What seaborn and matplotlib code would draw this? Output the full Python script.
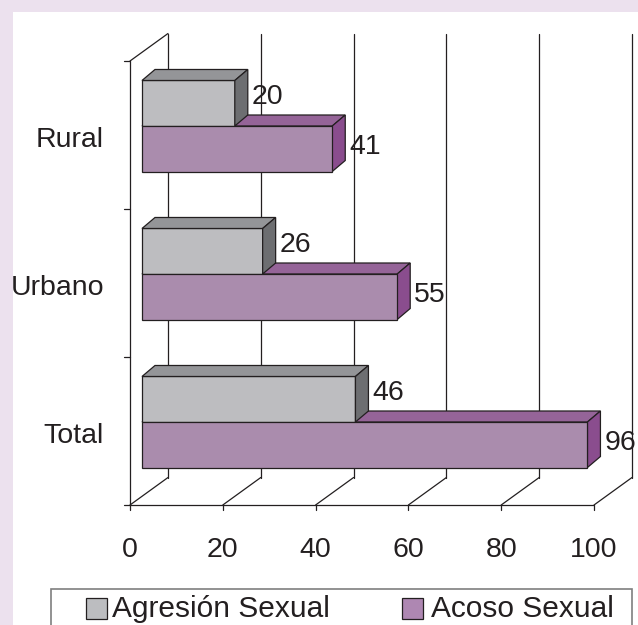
import matplotlib

matplotlib.use("Agg")
import matplotlib.pyplot as plt
import pandas as pd
import seaborn as sns
from matplotlib.patches import Polygon, Rectangle

# data
zonas = ["Rural", "Urbano", "Total"]
agresion = [20, 26, 46]
acoso = [41, 55, 96]
tipos = ["Agresión Sexual", "Acoso Sexual"]
x_ticks = [0, 20, 40, 60, 80, 100]

# colours: front / top / side faces
front = ["#bcbdc0", "#ae87b2"]
top = ["#949598", "#956498"]
side = ["#6d6e71", "#8a4d8e"]
ink = "#231f20"

W, H = 638, 625
SX, SY = 4.64, 148.0  # pixels per value unit / per category
X0, Y0 = 142, 126  # pixel position of value 0 / first category (bar plane)


def px(dx, dy):
    """pixel offset -> data offset"""
    return dx / SX, dy / SY


bar_d = px(13, -11)  # depth of each bar
front_d = px(-12, 9)  # front plane relative to the bars
back_d = px(26, -18.5)  # back wall relative to the bars

df = pd.DataFrame(
    {
        "zona": zonas * 2,
        "valor": agresion + acoso,
        "tipo": [tipos[0]] * 3 + [tipos[1]] * 3,
    }
)

sns.set_style("white")
plt.rcParams["font.family"] = ["Liberation Sans", "DejaVu Sans"]
FS = 20.5

fig = plt.figure(figsize=(W / 100, H / 100), dpi=100, facecolor="#ece1ee")
fig.patches.append(
    Rectangle((13 / W, 0), 1, 1 - 12 / H, transform=fig.transFigure,
              facecolor="white", edgecolor="none", zorder=-1)
)
ax = fig.add_axes([0, 0, 1, 1])
ax.patch.set_alpha(0)

sns.barplot(
    data=df, x="valor", y="zona", hue="tipo", order=zonas, hue_order=tipos,
    orient="h", palette=front, width=0.615, edgecolor=ink, linewidth=0.9,
    legend=False, ax=ax, zorder=3,
)

ax.set_xlim(-X0 / SX, (W - X0) / SX)
ax.set_ylim((H - Y0) / SY, -Y0 / SY)
ax.set_axis_off()

# walls and floor
y_top, y_floor = -0.5, len(zonas) - 0.5
fx, fy = front_d
bx, by = back_d
line = dict(color=ink, lw=0.9, zorder=1)
for v in x_ticks:
    ax.plot([v + bx, v + bx], [y_top + by, y_floor + by], **line)
    ax.plot([v + fx, v + bx], [y_floor + fy, y_floor + by], **line)
    ax.plot([v + fx, v + fx], [y_floor + fy, y_floor + fy + 5 / SY], **line)
    ax.text(v + fx, 2.865, str(v), ha="center", va="center", fontsize=FS, color=ink)
ax.plot([fx - 6 / SX, x_ticks[-1] + fx], [y_floor + fy] * 2, **line)
ax.plot([fx, fx], [y_top + fy, y_floor + fy], **line)
ax.plot([fx, bx], [y_top + fy, y_top + by], **line)
for i in range(len(zonas)):
    ax.plot([fx - 6 / SX, fx], [i - 0.5 + fy] * 2, **line)
    ax.text(-8.2, i + 0.095, zonas[i], ha="right", va="center", fontsize=FS, color=ink)

# 3d faces on the seaborn bars
ddx, ddy = bar_d
n = len(zonas)
for k, bar in enumerate(ax.patches):
    h = k // n
    x0, y0 = bar.get_x(), bar.get_y()
    w, hh = bar.get_width(), bar.get_height()
    x1, y1 = x0 + w, y0 + hh
    z = 2.5 if h == 1 else 3.5
    ax.add_patch(Polygon(
        [(x0, y0), (x1, y0), (x1 + ddx, y0 + ddy), (x0 + ddx, y0 + ddy)],
        facecolor=top[h], edgecolor=ink, lw=0.9, zorder=z))
    ax.add_patch(Polygon(
        [(x1, y0), (x1, y1), (x1 + ddx, y1 + ddy), (x1 + ddx, y0 + ddy)],
        facecolor=side[h], edgecolor=ink, lw=0.9, zorder=z))
    shift = -6 if h == 0 else -2
    ax.text(x1 + ddx + 4 / SX, (y0 + y1) / 2 + shift / SY, f"{w:g}",
            ha="left", va="center", fontsize=FS, color=ink, zorder=5)

# legend box (cut by the lower edge, as in the original)
fig.patches.append(
    Rectangle((51 / W, -0.05), (632 - 51) / W, 0.05 + (H - 589) / H,
              transform=fig.transFigure, facecolor="white", edgecolor="#7f7f7f",
              lw=1.2, zorder=1)
)
for h, (sq_x, tx) in enumerate([(86, 112), (402, 431)]):
    fig.patches.append(
        Rectangle((sq_x / W, (H - 619) / H), 21 / W, 21 / H, transform=fig.transFigure,
                  facecolor=front[h], edgecolor=ink, lw=0.9, zorder=2)
    )
    fig.text(tx / W, (H - 609) / H, tipos[h], ha="left", va="center",
             fontsize=21.5, color=ink, zorder=3)

fig.savefig("out.png", dpi=100, facecolor=fig.get_facecolor())
